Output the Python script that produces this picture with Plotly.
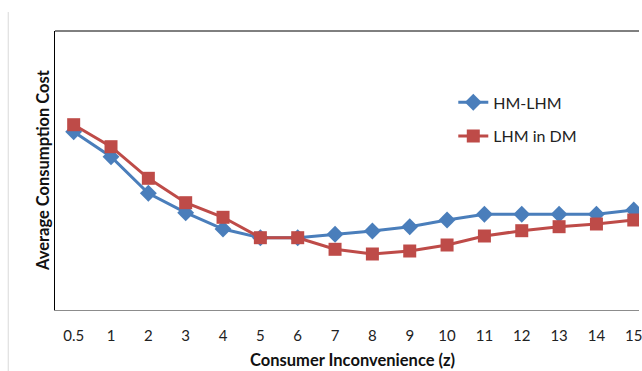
import plotly.graph_objects as go

categories = ["0.5", "1", "2", "3", "4", "5", "6", "7", "8", "9", "10", "11", "12", "13", "14", "15"]
hm_lhm = [178.3, 153.3, 116.7, 97.3, 81.0, 72.3, 72.3, 75.7, 79.0, 83.3, 90.0, 95.7, 95.7, 95.7, 95.7, 100.0]
lhm_in_dm = [185.3, 163.3, 131.7, 107.3, 92.7, 72.3, 72.3, 60.7, 56.0, 59.0, 65.0, 74.0, 79.3, 83.3, 86.0, 90.0]

FONT = "Lato"
BLUE = "#4A7EBB"
RED = "#BE4B48"

fig = go.Figure()
fig.add_trace(go.Scatter(
    x=categories, y=hm_lhm, name="HM-LHM", mode="lines+markers",
    line=dict(color=BLUE, width=3),
    marker=dict(symbol="diamond", size=13, color=BLUE),
    legendgroup="a",
))
fig.add_trace(go.Scatter(
    x=categories, y=lhm_in_dm, name="LHM in DM", mode="lines+markers",
    line=dict(color=RED, width=3),
    marker=dict(symbol="square", size=13, color=RED),
    legendgroup="b",
))

fig.update_layout(
    width=642, height=371,
    margin=dict(l=55, r=0, t=31, b=61),
    paper_bgcolor="white", plot_bgcolor="white",
    font=dict(family=FONT, size=15, color="#222222"),
    showlegend=True,
    legend=dict(
        x=0.682, y=0.805, xanchor="left", yanchor="top",
        font=dict(family=FONT, size=16, color="#222222"),
        tracegroupgap=10, bgcolor="rgba(0,0,0,0)",
    ),
    xaxis=dict(
        type="category", range=[-0.5, 15.14],
        showline=True, linecolor="#8c8c8c", linewidth=1,
        ticks="", showgrid=False, zeroline=False,
        ticklabelstandoff=12,
        tickfont=dict(family=FONT, size=15, color="#222222"),
    ),
    yaxis=dict(
        range=[0, 279], showline=True, linecolor="black", linewidth=1,
        showticklabels=False, ticks="", showgrid=False, zeroline=False,
    ),
    shapes=[
        dict(type="line", xref="paper", yref="paper", x0=0, x1=1, y0=1, y1=1,
             line=dict(color="black", width=1)),
        dict(type="line", xref="paper", yref="paper", x0=-0.0801, x1=-0.0801, y0=1.068, y1=-0.3,
             line=dict(color="#d9d9d9", width=1)),
    ],
    annotations=[
        dict(text="<b>Consumer Inconvenience (z)</b>", xref="paper", yref="paper",
             x=0.509, y=-0.179, xanchor="center", yanchor="middle", showarrow=False,
             font=dict(family=FONT, size=16.5, color="#111111")),
        dict(text="<b>Average Consumption Cost</b>", xref="paper", yref="paper",
             x=-0.0213, y=0.5, xanchor="center", yanchor="middle", showarrow=False,
             textangle=-90, font=dict(family=FONT, size=16.5, color="#111111")),
    ],
)

fig.write_html("out.html")
